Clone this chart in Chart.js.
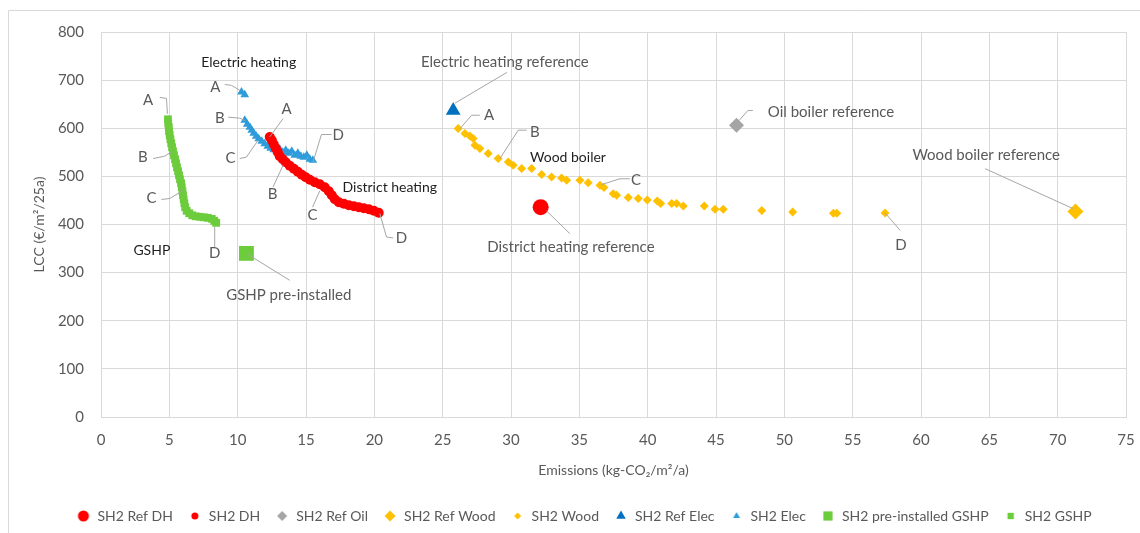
<!DOCTYPE html>
<html>
<head>
<meta charset="utf-8">
<script src="https://cdn.jsdelivr.net/npm/chart.js@4.4.1/dist/chart.umd.min.js"></script>
<style>
    html, body { margin: 0; padding: 0; background: #fff; }
    #wrap { position: relative; width: 1140px; height: 533px; }
</style>
</head>
<body>
<div id="wrap"><canvas id="lccChart" width="1140" height="533"></canvas></div>
<script>
// Series values, [emissions, LCC]
const refDH = [[32.17, 436]];
const shDH = [
    [12.35, 581.8], [12.5, 575], [12.64, 566.7], [12.79, 558.3], [12.94, 550], [13.08, 541.8],
    [13.3, 535.5], [13.52, 529.3], [13.81, 522], [14.11, 515.7], [14.4, 509.5], [14.69, 503.3],
    [14.98, 498], [15.28, 492.9], [15.64, 487.7], [16.01, 483.5], [16.37, 477.3], [16.67, 469],
    [16.89, 460.7], [17.11, 452.4], [17.4, 446.2], [17.77, 443], [18.13, 439.9], [18.5, 437.8],
    [18.86, 435.8], [19.23, 433.7], [19.6, 431.6], [19.96, 428.5], [20.32, 424.3]
];
const refOil = [[46.5, 606]];
const refWood = [[71.3, 427]];
const shWood = [
    [26.13, 599.3], [26.63, 588.9], [26.99, 583.9], [27.23, 578.5], [27.36, 564.6], [27.72, 557.7],
    [28.33, 547.3], [29.06, 536.9], [29.8, 529.9], [30.16, 523], [30.78, 516.2], [31.51, 516.2],
    [32.24, 503.7], [32.97, 498.7], [33.7, 496.6], [34.07, 491.8], [35.04, 491.8], [35.65, 487],
    [36.51, 481.5], [36.8, 476.7], [37.48, 464], [37.73, 460.7], [38.58, 455.9], [39.31, 453.8],
    [39.97, 451], [40.7, 448.8], [40.95, 443.4], [41.76, 443.4], [42.12, 443.4], [42.61, 438.5],
    [44.14, 438.5], [44.93, 431.6], [45.53, 431.6], [48.35, 428.9], [50.61, 426], [53.59, 423.3],
    [53.84, 423.3], [57.37, 423.9]
];
const refElec = [[25.77, 637]];
const shElec = [
    [10.28, 675.3], [10.52, 669.5], [10.52, 616.5], [10.7, 608.2], [10.89, 602], [11.03, 595.8],
    [11.18, 589.5], [11.36, 583.3], [11.54, 578.1], [11.76, 572.9], [11.98, 567.7], [12.2, 562.5],
    [12.42, 558.3], [12.64, 555.2], [12.86, 552.1], [13.08, 556.3], [13.3, 550], [13.52, 554.2],
    [13.74, 548], [13.96, 552.1], [14.18, 543.8], [14.4, 548], [14.62, 541.8], [14.84, 539.7],
    [15.06, 543.8], [15.28, 535.5], [15.5, 533.4]
];
const preGSHP = [[10.64, 340]];
const shGSHP = [
    [4.9, 618.6], [4.92, 610.3], [4.96, 602], [4.98, 593.7], [5.03, 585.4], [5.08, 577.1],
    [5.14, 568.8], [5.2, 560.5], [5.27, 552.2], [5.34, 543.8], [5.42, 535.5], [5.49, 527.2],
    [5.56, 518.9], [5.64, 510.6], [5.71, 502.3], [5.78, 494], [5.86, 485.7], [5.91, 477.4],
    [5.96, 469.1], [6.0, 460.8], [6.05, 452.5], [6.1, 444.1], [6.16, 435.8], [6.27, 428.5],
    [6.46, 423.3], [6.68, 419.1], [6.93, 417], [7.23, 416], [7.52, 415], [7.81, 413.9],
    [8.1, 411.8], [8.29, 407.7], [8.43, 403.5]
];

const seriesNames = ['SH2 Ref DH', 'SH2 DH', 'SH2 Ref Oil', 'SH2 Ref Wood', 'SH2 Wood',
    'SH2 Ref Elec', 'SH2 Elec', 'SH2 pre-installed GSHP', 'SH2 GSHP'];

const xTitle = 'Emissions (kg-CO\u2082/m\u00B2/a)';
const yTitle = 'LCC (\u20AC/m\u00B2/25a)';

// callout texts, placed in data units
const callouts = [
    { text: 'Electric heating', x: 10.81, y: 737, dark: true },
    { text: 'Electric heating reference', x: 29.55, y: 737 },
    { text: 'Oil boiler reference', x: 53.42, y: 633 },
    { text: 'Wood boiler reference', x: 64.77, y: 544 },
    { text: 'Wood boiler', x: 34.17, y: 540, dark: true },
    { text: 'District heating', x: 21.13, y: 477, dark: true },
    { text: 'District heating reference', x: 34.38, y: 353 },
    { text: 'GSHP pre-installed', x: 13.74, y: 253 },
    { text: 'GSHP', x: 3.72, y: 346, dark: true },
    { text: 'A', x: 3.44, y: 658 }, { text: 'B', x: 3.07, y: 539 },
    { text: 'C', x: 3.69, y: 454 }, { text: 'D', x: 8.32, y: 340 },
    { text: 'A', x: 8.37, y: 686 }, { text: 'B', x: 8.69, y: 621 },
    { text: 'C', x: 9.47, y: 537 }, { text: 'D', x: 17.35, y: 585 },
    { text: 'A', x: 13.57, y: 639 }, { text: 'B', x: 12.55, y: 463 },
    { text: 'C', x: 15.48, y: 419 }, { text: 'D', x: 21.99, y: 371 },
    { text: 'A', x: 28.4, y: 627 }, { text: 'B', x: 31.75, y: 592 },
    { text: 'C', x: 39.14, y: 492 }, { text: 'D', x: 58.54, y: 357 }
];

const leaderLines = [
    [[29.7, 716], [25.89, 652]],
    [[47.7, 637], [47.34, 637], [46.68, 616]],
    [[64.69, 516], [71.13, 433]],
    [[34.31, 381], [32.61, 428]],
    [[10.74, 338], [13.81, 284]],
    [[4.3, 664], [4.79, 662], [4.86, 630]],
    [[3.81, 537], [4.66, 542], [5.15, 551]],
    [[4.42, 452], [5.03, 454], [6.0, 471]],
    [[8.32, 353], [8.32, 395]],
    [[9.06, 691], [9.55, 689], [10.15, 679]],
    [[9.3, 623], [10.15, 621], [10.52, 616]],
    [[10.15, 537], [10.64, 540], [11.49, 575]],
    [[16.87, 587], [16.13, 587], [15.52, 530]],
    [[13.32, 620], [12.35, 582]],
    [[12.59, 478], [13.32, 523]],
    [[15.48, 436], [16.01, 470]],
    [[21.38, 372], [20.89, 374], [20.4, 423]],
    [[27.72, 627], [27.12, 627], [26.26, 599]],
    [[31.14, 596], [30.53, 596], [29.19, 537]],
    [[38.7, 495], [37.97, 495], [36.63, 483]],
    [[58.47, 388], [57.37, 424]]
];

const FONT = 'Lato, "Open Sans", sans-serif';
const GREY = '#595959';

const toPoints = arr => arr.map(p => ({ x: p[0], y: p[1] }));

const styles = [
    { color: '#ff0000', shape: 'circle', r: 8, lr: 5.5 },
    { color: '#ff0000', shape: 'circle', r: 5, lr: 3.5 },
    { color: '#a5a5a5', shape: 'rectRot', r: 7.5, lr: 5 },
    { color: '#ffc000', shape: 'rectRot', r: 8, lr: 5.5 },
    { color: '#ffc000', shape: 'rectRot', r: 4.5, lr: 3.5 },
    { color: '#0070c0', shape: 'triangle', r: 8.5, lr: 5.5 },
    { color: '#2e9bda', shape: 'triangle', r: 5, lr: 4 },
    { color: '#6ccc3c', shape: 'rect', r: 10.5, lr: 6.5 },
    { color: '#6ccc3c', shape: 'rect', r: 5.5, lr: 4.5 }
];
const seriesData = [refDH, shDH, refOil, refWood, shWood, refElec, shElec, preGSHP, shGSHP];

// small canvases so every legend marker keeps its own size
const legendIcons = styles.map(s => {
    const c = document.createElement('canvas');
    c.width = 14; c.height = 14;
    const g = c.getContext('2d');
    g.fillStyle = s.color;
    Chart.helpers.drawPoint(g, { pointStyle: s.shape, radius: s.lr, rotation: 0, borderWidth: 0 }, 7, 7);
    return c;
});

const calloutPlugin = {
    id: 'callouts',
    afterLayout(chart) {
        // legend sits a little right of the canvas centre in the original
        chart.legend.left += 21;
        chart.legend.right += 21;
    },
    beforeDraw(chart) {
        const ctx = chart.ctx;
        ctx.save();
        ctx.fillStyle = '#fff';
        ctx.fillRect(0, 0, chart.width, chart.height);
        ctx.strokeStyle = '#d9d9d9';
        ctx.lineWidth = 1;
        ctx.beginPath();
        ctx.moveTo(8.5, chart.height);
        ctx.lineTo(8.5, 10.5);
        ctx.lineTo(chart.width, 10.5);
        ctx.stroke();
        ctx.restore();
    },
    afterDatasetsDraw(chart) {
        const { ctx, scales: { x, y } } = chart;
        ctx.save();
        ctx.strokeStyle = '#a6a6a6';
        ctx.lineWidth = 1;
        leaderLines.forEach(line => {
            ctx.beginPath();
            line.forEach((p, i) => {
                const px = x.getPixelForValue(p[0]);
                const py = y.getPixelForValue(p[1]);
                if (i === 0) ctx.moveTo(px, py); else ctx.lineTo(px, py);
            });
            ctx.stroke();
        });
        ctx.textAlign = 'center';
        ctx.textBaseline = 'middle';
        callouts.forEach(c => {
            ctx.font = (c.dark ? '14px ' : '15px ') + FONT;
            ctx.fillStyle = c.dark ? '#1e1e1e' : GREY;
            ctx.fillText(c.text, x.getPixelForValue(c.x), y.getPixelForValue(c.y));
        });
        ctx.restore();
    }
};

new Chart(document.getElementById('lccChart'), {
    type: 'scatter',
    data: {
        datasets: seriesData.map((d, i) => ({
            label: seriesNames[i],
            data: toPoints(d),
            pointStyle: styles[i].shape,
            pointRadius: styles[i].r,
            pointBackgroundColor: styles[i].color,
            pointBorderColor: styles[i].color,
            pointBorderWidth: 0,
            backgroundColor: styles[i].color,
            borderColor: styles[i].color
        }))
    },
    options: {
        responsive: false,
        animation: false,
        layout: { padding: { top: 32, right: 14, bottom: 0, left: 0 } },
        plugins: {
            tooltip: { enabled: false },
            legend: {
                position: 'bottom',
                labels: {
                    usePointStyle: true,
                    boxWidth: 14,
                    padding: 15,
                    color: GREY,
                    font: { family: FONT, size: 14 },
                    generateLabels(chart) {
                        const items = Chart.defaults.plugins.legend.labels.generateLabels(chart);
                        items.forEach((it, i) => { it.pointStyle = legendIcons[i]; });
                        return items;
                    }
                }
            }
        },
        scales: {
            x: {
                type: 'linear',
                min: 0,
                max: 75,
                ticks: { stepSize: 5, padding: 14, color: GREY, font: { family: FONT, size: 15 } },
                grid: { color: '#d9d9d9', drawTicks: false },
                border: { color: '#d9d9d9' },
                title: {
                    display: true, text: xTitle, color: GREY,
                    font: { family: FONT, size: 14 }, padding: { top: 0, bottom: 15 }
                },
                afterFit(scale) {
                    scale.height = 77;
                    scale.paddingLeft = 8;
                    scale.paddingRight = 8;
                }
            },
            y: {
                min: 0,
                max: 800,
                ticks: { stepSize: 100, padding: 17, color: GREY, font: { family: FONT, size: 15 } },
                grid: { color: '#d9d9d9', drawTicks: false },
                border: { color: '#d9d9d9' },
                title: {
                    display: true, text: yTitle, color: GREY,
                    font: { family: FONT, size: 14 }, padding: { top: 31, bottom: 0 }
                },
                afterFit(scale) { scale.width = 101; }
            }
        }
    },
    plugins: [calloutPlugin]
});
</script>
</body>
</html>
